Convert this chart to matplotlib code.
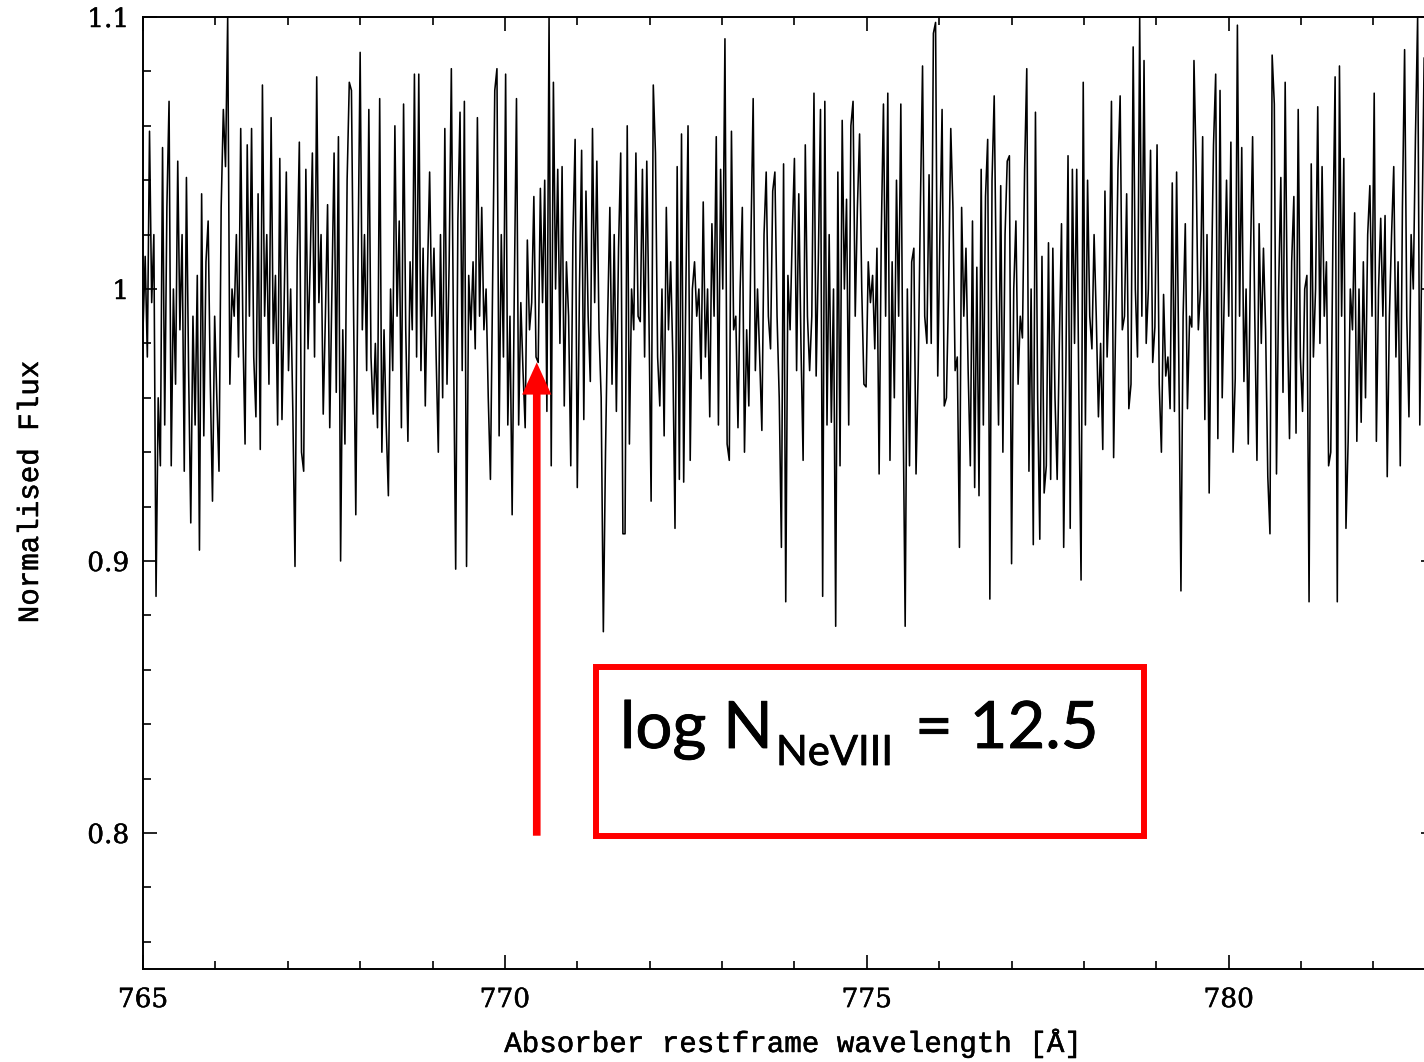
"""
Normalised flux around the Ne VIII 770 line, with the column density annotation.
Writes out.png (1424x1062).
"""
import numpy as np
import matplotlib
matplotlib.use("Agg")
import matplotlib.pyplot as plt  # noqa: E402
import matplotlib.patheffects as pe  # noqa: E402
from matplotlib.ticker import MultipleLocator, FuncFormatter  # noqa: E402
from matplotlib.patches import Rectangle  # noqa: E402

wave_start = 765.0
wave_step = 0.03
flux = [
    # 765.00 - 767.21
    0.985, 1.012, 0.975, 1.058, 0.995, 1.020, 0.887, 0.960, 0.935, 1.052,
    0.950, 1.030, 1.069, 0.935, 1.000, 0.965, 1.047, 0.985, 1.020, 0.933,
    1.041, 0.970, 0.914, 0.990, 0.950, 1.005, 0.904, 1.035, 0.946, 1.010,
    1.025, 0.965, 0.922, 0.990, 0.960, 0.933, 1.030, 1.066, 1.045, 1.100,
    0.965, 1.000, 0.990, 1.020, 0.975, 1.059, 0.985, 0.943, 1.053, 0.990,
    1.059, 0.975, 0.953, 1.035, 0.941, 1.075, 0.990, 1.020, 0.965, 1.063,
    0.980, 1.005, 0.950, 1.048, 0.952, 0.995, 1.043, 0.970, 1.000, 0.955,
    0.898, 1.010, 1.054, 0.940,
    # 767.22 - 769.41
    0.933, 1.044, 0.978, 1.010, 1.050, 0.975, 1.078, 0.995, 1.020, 0.954,
    0.990, 1.031, 0.949, 1.000, 1.050, 0.962, 1.056, 0.900, 0.985, 0.943,
    1.040, 1.076, 1.073, 0.990, 0.917, 1.010, 1.087, 0.985, 1.020, 0.970,
    1.066, 0.975, 0.954, 0.980, 0.949, 1.070, 0.940, 0.985, 0.950, 0.924,
    1.000, 0.970, 1.060, 0.990, 1.025, 0.949, 1.068, 0.985, 0.944, 1.010,
    0.985, 1.079, 0.975, 1.079, 0.970, 1.015, 0.957, 1.005, 1.043, 0.990,
    1.015, 0.975, 0.940, 1.020, 0.960, 1.059, 0.965, 1.010, 1.081, 0.980,
    0.897, 1.025, 1.065, 0.970,
    # 769.44 - 771.63
    1.069, 0.898, 1.005, 0.985, 1.010, 0.978, 1.063, 0.990, 1.030, 0.985,
    1.000, 0.960, 0.930, 1.000, 1.073, 1.081, 0.946, 1.020, 0.975, 1.079,
    0.950, 0.990, 0.917, 1.000, 1.070, 0.950, 0.995, 0.970, 0.949, 1.018,
    0.985, 0.995, 1.034, 0.975, 0.973, 1.037, 0.995, 1.040, 0.955, 1.100,
    0.935, 1.076, 1.000, 1.044, 0.980, 1.045, 0.957, 1.010, 0.990, 0.935,
    1.020, 1.055, 0.927, 1.000, 1.051, 0.952, 1.036, 0.990, 0.966, 1.059,
    0.995, 1.047, 0.985, 0.960, 0.874, 0.940, 0.990, 1.030, 0.965, 1.020,
    0.955, 1.015, 1.050, 0.910,
    # 771.66 - 773.85
    0.910, 1.060, 0.943, 1.000, 0.985, 1.050, 0.990, 0.988, 1.044, 0.975,
    1.047, 0.990, 0.922, 1.075, 1.050, 0.975, 0.957, 1.000, 0.946, 1.030,
    0.985, 1.010, 0.975, 0.912, 1.045, 0.930, 1.057, 0.929, 1.000, 1.060,
    0.937, 1.000, 1.010, 0.990, 1.000, 0.967, 1.032, 0.975, 1.000, 0.953,
    1.024, 0.990, 1.056, 0.950, 1.044, 1.000, 1.092, 0.943, 0.937, 1.058,
    0.985, 0.990, 0.949, 1.000, 1.030, 0.940, 0.985, 0.957, 1.020, 1.070,
    0.970, 1.000, 0.975, 0.948, 1.020, 1.043, 0.990, 0.978, 1.036, 1.043,
    0.990, 0.960, 0.905, 1.046,
    # 773.88 - 776.07
    0.885, 1.005, 0.985, 1.020, 1.048, 0.970, 1.035, 0.980, 0.937, 1.053,
    0.990, 0.970, 0.990, 1.072, 0.968, 1.010, 1.066, 0.887, 1.069, 0.950,
    1.020, 0.951, 1.000, 0.876, 1.043, 0.935, 1.062, 1.000, 1.033, 0.950,
    1.060, 1.069, 0.990, 1.030, 1.057, 1.000, 0.965, 0.964, 1.010, 0.995,
    1.005, 0.978, 1.015, 0.932, 1.020, 1.068, 0.990, 1.072, 0.937, 1.010,
    0.960, 1.040, 0.990, 1.068, 0.960, 0.876, 1.000, 0.935, 1.010, 1.015,
    0.932, 0.970, 1.030, 1.082, 0.990, 0.980, 1.042, 0.980, 1.094, 1.098,
    0.968, 1.020, 1.066, 0.957,
    # 776.10 - 778.29
    0.960, 1.000, 1.059, 1.030, 0.970, 0.975, 0.905, 1.030, 0.990, 1.015,
    0.970, 0.935, 1.025, 0.927, 1.008, 0.924, 1.044, 0.950, 1.034, 1.055,
    0.886, 1.040, 1.071, 1.000, 0.950, 1.038, 0.940, 1.020, 1.047, 1.049,
    0.899, 1.000, 1.025, 0.965, 0.990, 0.982, 1.044, 1.081, 0.933, 1.000,
    0.906, 1.065, 0.960, 0.908, 1.012, 0.925, 0.935, 1.017, 0.930, 1.015,
    0.960, 0.930, 0.980, 1.024, 0.905, 0.970, 1.049, 0.912, 1.044, 0.980,
    1.044, 0.960, 0.893, 1.076, 0.950, 1.040, 0.990, 0.978, 1.020, 0.990,
    0.953, 0.980, 0.941, 1.036,
    # 778.32 - 780.51
    0.975, 1.000, 1.069, 0.938, 0.990, 1.044, 1.071, 0.985, 0.990, 1.035,
    0.956, 0.965, 1.089, 1.000, 0.975, 1.100, 0.990, 1.084, 0.980, 1.000,
    1.051, 0.973, 0.986, 1.053, 0.965, 0.940, 0.998, 0.968, 0.975, 0.956,
    1.039, 0.955, 1.043, 0.975, 0.889, 0.990, 1.024, 0.956, 0.990, 0.986,
    1.084, 1.045, 0.985, 1.000, 1.056, 0.952, 1.020, 0.925, 1.000, 1.053,
    1.079, 0.945, 1.073, 0.960, 1.000, 1.040, 0.990, 1.054, 0.940, 0.967,
    1.097, 0.990, 1.052, 0.966, 1.000, 0.943, 1.010, 1.056, 0.990, 0.937,
    1.024, 0.980, 1.015, 0.985,
    # 780.54 - 782.73
    0.931, 0.910, 1.086, 1.068, 0.932, 1.000, 1.041, 0.962, 1.076, 0.990,
    0.945, 1.010, 1.034, 0.947, 1.066, 0.975, 0.955, 1.000, 1.005, 0.885,
    1.046, 0.975, 1.000, 1.067, 0.980, 1.045, 0.990, 1.010, 0.935, 0.940,
    1.020, 1.078, 0.885, 1.082, 0.990, 1.048, 0.912, 0.944, 1.000, 0.985,
    1.028, 0.944, 1.000, 0.951, 1.010, 0.960, 1.020, 1.038, 0.990, 1.072,
    0.944, 1.000, 1.026, 0.990, 1.027, 0.931, 0.990, 1.020, 1.045, 0.975,
    1.010, 0.935, 1.030, 1.088, 0.990, 0.953, 1.020, 1.000, 1.056, 1.100,
    0.950, 1.020, 1.085, 1.000,
]

# annotation
arrow_x = 770.44
arrow_y = (0.799, 0.973)
box_x = (771.26, 778.83)
box_y = (0.799, 0.861)

TICK_FONT = "DejaVu Serif"
LABEL_FONT = "Liberation Mono"
NOTE_FONT = "Lato"
RED = "#ff0000"
# thicken the thin fonts a touch, the original strokes are a little heavier
HEAVY = [pe.withStroke(linewidth=0.35, foreground="black")]


def main() -> None:
    wave = wave_start + wave_step * np.arange(len(flux))

    fig = plt.figure(figsize=(14.24, 10.62), dpi=100)
    # right edge of the frame lies just outside the picture, as in the original
    ax = fig.add_axes([143 / 1424, 1 - 969 / 1062, (1435 - 143) / 1424, (969 - 17) / 1062])

    ax.plot(wave, flux, color="black", lw=1.15)
    ax.set_xlim(765, 782.85)
    ax.set_ylim(0.75, 1.1)

    ax.xaxis.set_major_locator(MultipleLocator(5))
    ax.xaxis.set_minor_locator(MultipleLocator(1))
    ax.yaxis.set_major_locator(MultipleLocator(0.1))
    ax.yaxis.set_minor_locator(MultipleLocator(0.02))
    ax.yaxis.set_major_formatter(FuncFormatter(lambda v, _: f"{v:g}"))
    ax.xaxis.set_major_formatter(FuncFormatter(lambda v, _: f"{v:g}"))
    ax.tick_params(which="both", direction="in", top=True, right=True, width=1.2)
    ax.tick_params(which="major", length=10, labelsize=19)
    ax.tick_params(axis="x", which="major", pad=13)
    ax.tick_params(axis="y", which="major", pad=10)
    ax.tick_params(which="minor", length=6)
    for lab in ax.get_xticklabels() + ax.get_yticklabels():
        lab.set_family(TICK_FONT)
        lab.set_path_effects(HEAVY)
    for sp in ax.spines.values():
        sp.set_linewidth(1.4)

    fig.text(793 / 1424, 1 - 1043 / 1062, "Absorber restframe wavelength [Å]",
             family=LABEL_FONT, fontsize=21, ha="center", va="center",
             path_effects=HEAVY)
    fig.text(30 / 1424, 1 - 492 / 1062, "Normalised Flux", rotation=90,
             family=LABEL_FONT, fontsize=21, ha="center", va="center",
             path_effects=HEAVY)

    # red arrow pointing at the expected line position
    ax.annotate("", xy=(arrow_x, arrow_y[1]), xytext=(arrow_x, arrow_y[0]),
                arrowprops=dict(arrowstyle="-|>,head_length=0.55,head_width=0.25",
                                mutation_scale=25, lw=5.5, color=RED,
                                shrinkA=0, shrinkB=0, joinstyle="miter",
                                capstyle="butt"))

    ax.add_patch(Rectangle((box_x[0], box_y[0]), box_x[1] - box_x[0], box_y[1] - box_y[0],
                           fill=False, edgecolor=RED, lw=4.3, zorder=5))

    note = dict(family=NOTE_FONT, ha="left", va="baseline",
                path_effects=[pe.withStroke(linewidth=0.6, foreground="black")])
    fig.text(620 / 1424, 1 - 748 / 1062, "log N", fontsize=47, **note)
    fig.text(776 / 1424, 1 - 765 / 1062, "NeVIII", fontsize=30, **note)
    fig.text(915 / 1424, 1 - 748 / 1062, "= 12.5", fontsize=47, **note)

    fig.savefig("out.png", dpi=100)


if __name__ == "__main__":
    main()
